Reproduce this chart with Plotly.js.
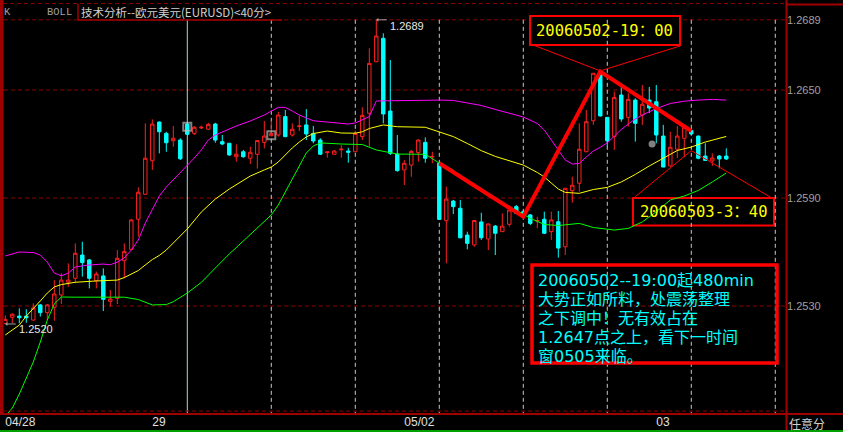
<!DOCTYPE html>
<html><head><meta charset="utf-8">
<script src="https://cdn.plot.ly/plotly-3.0.1.min.js"></script>
<style>html,body{margin:0;padding:0;background:#000;}#chart{width:843px;height:432px;}</style>
</head><body><div id="chart"></div>
<script>
// ---- candle data (EURUSD 40-minute bars) ----
const openP = [1.25202,1.25237,1.25244,1.25244,1.25222,1.25306,1.25263,1.25293,1.25361,1.25432,
1.25454,1.25583,1.25556,1.25441,1.25467,1.25326,1.25343,1.25552,1.25615,1.25782,
1.25921,1.26107,1.26322,1.26259,1.26218,1.26222,1.26311,1.26259,1.26289,1.26282,
1.26311,1.26213,1.26204,1.26129,1.26157,1.26121,1.26143,1.26209,1.26246,1.26250,
1.26352,1.26250,1.26297,1.26306,1.26259,1.26222,1.26152,1.26143,1.26168,1.26161,
1.26157,1.26241,1.26371,1.26657,1.26787,1.26383,1.26144,1.26056,1.26083,1.26152,
1.26209,1.26128,1.26093,1.25774,1.25883,1.25843,1.25694,1.25639,1.25767,1.25672,
1.25744,1.25713,1.25754,1.25852,1.25824,1.25806,1.25772,1.25782,1.25713,1.25768,
1.25629,1.25941,1.25982,1.26157,1.26329,1.26602,1.26348,1.26241,1.26472,1.26348,
1.26444,1.26361,1.26444,1.26435,1.26244,1.26078,1.26171,1.26232,1.26274,1.26244,
1.26133,1.26106,1.26133,1.26133];
const highP = [1.25248,1.25259,1.25287,1.25282,1.25315,1.25311,1.25311,1.25444,1.25482,1.25537,
1.25648,1.25657,1.25561,1.25491,1.25509,1.25389,1.25611,1.25648,1.25783,1.25959,
1.26315,1.26337,1.26325,1.26268,1.26300,1.26232,1.26322,1.26300,1.26302,1.26318,
1.26318,1.26250,1.26206,1.26198,1.26167,1.26185,1.26222,1.26328,1.26329,1.26379,
1.26389,1.26315,1.26356,1.26394,1.26300,1.26232,1.26156,1.26167,1.26194,1.26179,
1.26274,1.26404,1.26732,1.26890,1.26815,1.26667,1.26250,1.26111,1.26167,1.26226,
1.26237,1.26157,1.26100,1.25963,1.25889,1.25889,1.25713,1.25778,1.25818,1.25756,
1.25750,1.25815,1.25857,1.25861,1.25833,1.25811,1.25796,1.25824,1.25824,1.25828,
1.25956,1.26018,1.26315,1.26389,1.26594,1.26606,1.26350,1.26491,1.26518,1.26482,
1.26454,1.26528,1.26517,1.26528,1.26306,1.26268,1.26300,1.26306,1.26287,1.26247,
1.26204,1.26148,1.26139,1.26176];
const lowP = [1.25200,1.25204,1.25204,1.25207,1.25219,1.25241,1.25222,1.25218,1.25311,1.25407,
1.25426,1.25463,1.25398,1.25398,1.25272,1.25296,1.25311,1.25454,1.25608,1.25685,
1.25917,1.26056,1.26148,1.26157,1.26185,1.26111,1.26250,1.26250,1.26283,1.26278,
1.26207,1.26194,1.26135,1.26102,1.26124,1.26089,1.26063,1.26176,1.26243,1.26241,
1.26237,1.26241,1.26272,1.26222,1.26204,1.26139,1.26124,1.26139,1.26124,1.26096,
1.26154,1.26222,1.26185,1.26656,1.26315,1.26139,1.26046,1.25972,1.26018,1.26102,
1.26096,1.26093,1.25778,1.25537,1.25811,1.25676,1.25615,1.25629,1.25667,1.25611,
1.25583,1.25711,1.25741,1.25811,1.25800,1.25750,1.25732,1.25700,1.25667,1.25569,
1.25583,1.25874,1.25935,1.26156,1.26306,1.26352,1.26185,1.26167,1.26324,1.26296,
1.26213,1.26306,1.26372,1.26204,1.26071,1.26074,1.26121,1.26126,1.26250,1.26115,
1.26107,1.26078,1.26065,1.26111];
const closeP = [1.25226,1.25254,1.25235,1.25235,1.25289,1.25263,1.25306,1.25367,1.25444,1.25444,
1.25593,1.25541,1.25454,1.25478,1.25337,1.25339,1.25565,1.25602,1.25778,1.25932,
1.26121,1.26311,1.26268,1.26207,1.26232,1.26118,1.26254,1.26293,1.26293,1.26309,
1.26222,1.26200,1.26139,1.26143,1.26129,1.26154,1.26219,1.26244,1.26259,1.26361,
1.26241,1.26282,1.26300,1.26256,1.26217,1.26143,1.26156,1.26161,1.26171,1.26154,
1.26259,1.26359,1.26648,1.26800,1.26367,1.26148,1.26052,1.26093,1.26159,1.26222,
1.26121,1.26131,1.25781,1.25894,1.25852,1.25679,1.25648,1.25775,1.25679,1.25756,
1.25704,1.25744,1.25833,1.25815,1.25806,1.25759,1.25775,1.25704,1.25778,1.25622,
1.25954,1.25971,1.26171,1.26324,1.26593,1.26356,1.26218,1.26459,1.26339,1.26448,
1.26315,1.26421,1.26400,1.26250,1.26072,1.26182,1.26244,1.26293,1.26256,1.26121,
1.26109,1.26122,1.26117,1.26117];

// ---- BOLL bands (at bar indices) ----
const upperX = [0,2,4,5,6,7,8,9,10,12,14,15,16,17,18,19,20,21,22,23,24,25,26,27,28,29,30,31,33,35,37,39,40,41,42,44,47,49,50,51,52,53,56,60,62,64,66,68,70,72,74,76,77,78,79,80,81,82,83,84,85,86,87,88,89,90,91,92,93,95,97,99,101,103];
const upperY = [1.25578,1.25600,1.25597,1.25583,1.25544,1.25483,1.25468,1.25483,1.25517,1.25528,
1.25533,1.25529,1.25544,1.25567,1.25611,1.25667,1.25761,1.25839,1.25911,1.25961,
1.26000,1.26044,1.26083,1.26122,1.26167,1.26222,1.26250,1.26267,1.26300,1.26328,
1.26361,1.26404,1.26403,1.26383,1.26361,1.26329,1.26319,1.26311,1.26317,1.26333,
1.26352,1.26439,1.26441,1.26444,1.26444,1.26442,1.26428,1.26414,1.26392,1.26372,
1.26350,1.26314,1.26278,1.26222,1.26167,1.26111,1.26089,1.26092,1.26128,1.26161,
1.26182,1.26206,1.26244,1.26281,1.26311,1.26339,1.26361,1.26381,1.26397,1.26425,
1.26438,1.26444,1.26448,1.26444];
const midX = [0,1,2,3,4,5,6,7,8,10,13,16,17,18,19,20,21,22,23,24,25,26,28,30,32,35,37,38,39,40,41,42,43,44,45,46,48,50,51,52,54,56,60,62,64,66,68,70,72,74,76,77,78,79,80,82,84,86,88,90,92,94,96,98,100,103];
const midY = [1.25139,1.25167,1.25194,1.25244,1.25289,1.25328,1.25372,1.25406,1.25419,1.25432,
1.25439,1.25444,1.25458,1.25478,1.25497,1.25528,1.25558,1.25581,1.25611,1.25650,
1.25689,1.25728,1.25822,1.25894,1.25950,1.26022,1.26056,1.26072,1.26100,1.26139,
1.26178,1.26211,1.26239,1.26258,1.26267,1.26272,1.26261,1.26260,1.26268,1.26286,
1.26306,1.26296,1.26293,1.26268,1.26241,1.26203,1.26163,1.26131,1.26106,1.26083,
1.26042,1.26017,1.25983,1.25950,1.25931,1.25926,1.25947,1.25959,1.25989,1.26031,
1.26078,1.26122,1.26164,1.26183,1.26211,1.26242];
const lowerX = [0,1,2,3,4,5,6,7,8,10,17,19,21,23,24,26,28,30,32,34,36,38,39,40,41,42,43,44,45,48,51,53,56,60,62,64,65,67,69,71,73,75,77,79,82,84,87,89,91,93,95,97,99,101,103];
const lowerY = [1.24689,1.24733,1.24811,1.24897,1.24989,1.25100,1.25222,1.25311,1.25350,1.25349,
1.25349,1.25336,1.25306,1.25308,1.25324,1.25372,1.25431,1.25511,1.25589,1.25661,
1.25733,1.25806,1.25861,1.25933,1.26000,1.26078,1.26150,1.26189,1.26206,1.26200,
1.26197,1.26167,1.26144,1.26143,1.26094,1.26056,1.26011,1.25961,1.25911,1.25867,
1.25833,1.25787,1.25753,1.25747,1.25759,1.25736,1.25722,1.25731,1.25767,1.25824,
1.25889,1.25911,1.25942,1.25989,1.26039];

// ---- hand-drawn trend line & markers ----
const trendX = [62,74,85,98];
const trendY = [1.26093,1.25796,1.26602,1.26272];
const markX = [26,38,92.4];
const markY = [1.26296,1.26248,1.26200];

// ---- axis labels ----
const priceTicks = [1.2689,1.2650,1.2590,1.2530];
const priceTickText = ['1.2689','1.2650','1.2590','1.2530'];
const dateTickPos = [0,21,57,93];
const dateTickText = ['04/28','29','05/02','03'];
const gridBars = [38,50,62,74,86,98,110];
const daySepBar = 26;

// ---- texts ----
const headerTitle = '技术分析--欧元美元(EURUSD)<40分>';
const calloutA = '20060502-19：00';
const calloutB = '20060503-3：40';
const noteLines = ['20060502--19:00起480min','大势正如所料，处震荡整理','之下调中！无有效占在','1.2647点之上，看下一时间','窗0505来临。'];

const idx = openP.map((_, i) => i);

// pixel -> paper helpers for decoration
const W=843,H=432,ML=4,MR=57,MT=0,MB=19;
const PW=W-ML-MR, PH=H-MT-MB;
const px = x => (x-ML)/PW;
const py = y => 1-(y-MT)/PH;
const yMin = 1.27 - PH/18000, yMax = 1.27;
const DR = '#8b0000', BR = '#a00000';

const traces = [
 {type:'candlestick', x:idx, open:openP, high:highP, low:lowP, close:closeP,
  increasing:{line:{color:'#ff2020',width:1}, fillcolor:'#000000'},
  decreasing:{line:{color:'#00ffff',width:1}, fillcolor:'#00ffff'},
  whiskerwidth:0, hoverinfo:'skip'},
 {type:'scatter', mode:'lines', x:upperX, y:upperY, line:{color:'#ff00ff',width:1}, hoverinfo:'skip'},
 {type:'scatter', mode:'lines', x:midX, y:midY, line:{color:'#ffff00',width:1}, hoverinfo:'skip'},
 {type:'scatter', mode:'lines', x:lowerX, y:lowerY, line:{color:'#00ff00',width:1}, hoverinfo:'skip'},
 {type:'scatter', mode:'markers', x:markX, y:markY,
  marker:{symbol:['square-open','square-open','circle'], size:[8,8,5], color:'#b8b8b8', line:{color:'#b8b8b8',width:2}}, hoverinfo:'skip'},
 {type:'scatter', mode:'lines', x:trendX, y:trendY, line:{color:'#ff0000',width:4}, hoverinfo:'skip'}
];

const shapes = [];
priceTicks.forEach(v => shapes.push({type:'line', layer:'below', xref:'paper', yref:'y', x0:0, x1:1, y0:v, y1:v, line:{color:DR,width:1,dash:'4px,3px'}}));
gridBars.forEach(b => shapes.push({type:'line', layer:'below', xref:'x', yref:'y', x0:b, x1:b, y0:priceTicks[0], y1:yMin, line:{color:'#c8c8c8',width:1,dash:'4px,3px'}}));
shapes.push({type:'line', layer:'below', xref:'x', yref:'y', x0:daySepBar, x1:daySepBar, y0:priceTicks[0], y1:yMin, line:{color:'#a8d8d8',width:1}});
// frame / decoration
shapes.push({type:'line', xref:'paper', yref:'paper', x0:px(3), x1:px(786), y0:py(3.5), y1:py(3.5), line:{color:DR,width:1,dash:'4px,3px'}});
shapes.push({type:'line', xref:'paper', yref:'paper', x0:px(786), x1:px(843), y0:py(4.5), y1:py(4.5), line:{color:BR,width:2}});
shapes.push({type:'line', xref:'paper', yref:'paper', x0:px(3), x1:px(786), y0:py(411), y1:py(411), line:{color:DR,width:1,dash:'4px,3px'}});
shapes.push({type:'line', xref:'paper', yref:'paper', x0:px(0), x1:px(843), y0:py(414), y1:py(414), line:{color:BR,width:2}});
shapes.push({type:'rect', xref:'paper', yref:'paper', x0:px(0), x1:px(3.5), y0:py(0), y1:py(414), fillcolor:BR, line:{width:0}});
shapes.push({type:'line', xref:'paper', yref:'paper', x0:px(786.5), x1:px(786.5), y0:py(0), y1:py(432), line:{color:BR,width:2}});
shapes.push({type:'line', xref:'paper', yref:'paper', x0:px(78), x1:px(78), y0:py(4), y1:py(20.5), line:{color:BR,width:1.5}});
shapes.push({type:'line', xref:'paper', yref:'paper', x0:px(78), x1:px(282), y0:py(20), y1:py(20), line:{color:BR,width:1.5}});
shapes.push({type:'line', xref:'paper', yref:'paper', x0:px(0), x1:px(843), y0:py(431), y1:py(431), line:{color:'#00a000',width:2}});
// callout boxes
shapes.push({type:'rect', layer:'below', xref:'paper', yref:'paper', x0:px(530), x1:px(680), y0:py(16), y1:py(45), fillcolor:'#000000', line:{color:'#ff0000',width:2}});
shapes.push({type:'rect', layer:'below', xref:'paper', yref:'paper', x0:px(633), x1:px(774), y0:py(198), y1:py(225.5), fillcolor:'#000000', line:{color:'#ff0000',width:2}});
shapes.push({type:'rect', xref:'paper', yref:'paper', x0:px(532), x1:px(777), y0:py(265), y1:py(363), line:{color:'#ff0000',width:3.5}});
// callout pointer lines (anchored on data, offsets in pixels)
function pointer(ax, ay, dx, dy){ return {type:'line', xref:'x', yref:'y', xsizemode:'pixel', ysizemode:'pixel', xanchor:ax, yanchor:ay, x0:0, y0:0, x1:dx, y1:dy, line:{color:'#ff0000',width:1}}; }
shapes.push(pointer(85, 1.26606, -70, 27));
shapes.push(pointer(85, 1.26606, 80, 25));
shapes.push(pointer(98, 1.26163, -56, -46));
shapes.push(pointer(98, 1.26163, 80, -47));

const annotations = [];
const pa = (x, y, text, font, extra) => Object.assign({xref:'paper', yref:'paper', x:px(x), y:py(y), text:text, showarrow:false, xanchor:'left', yanchor:'middle', borderpad:0, font:font}, extra||{});
annotations.push(pa(2.5, 12, 'K', {family:'Liberation Mono', size:10.5, color:'#a0a0a0'}));
annotations.push(pa(46, 12, 'BOLL', {family:'Liberation Mono', size:10.5, color:'#a0a0a0'}));
annotations.push(pa(80, 12, headerTitle, {family:'Noto Sans CJK SC', size:11.5, color:'#d0d0d0'}));
const monoCJK = 'DejaVu Sans Mono, Noto Sans CJK SC';
annotations.push(pa(535, 31, calloutA, {family:monoCJK, size:15.5, color:'#ffff00'}));
annotations.push(pa(639, 212, calloutB, {family:monoCJK, size:15.5, color:'#ffff00'}));
const lineY = [280, 299, 318, 337, 356];
noteLines.forEach((t, i) => annotations.push(pa(537, lineY[i], t, {family:'DejaVu Sans, Noto Sans CJK SC', size:16, color:'#00ffff'})));
annotations.push(pa(788, 423, '任意分', {family:'Noto Sans CJK SC', size:12, color:'#d0d0d0'}));
// high / low labels
function arrow(x, y){ return {xref:'x', yref:'y', x:x, y:y, text:'', showarrow:true, ax:12, ay:0, arrowhead:1, arrowsize:0.7, arrowwidth:1, arrowcolor:'#a0a0a0', standoff:0}; }
annotations.push(arrow(53, highP[53]));
annotations.push({xref:'x', yref:'y', x:53, y:highP[53], text:priceTickText[0], showarrow:false, xanchor:'left', yanchor:'middle', xshift:12, yshift:-6, font:{family:'Liberation Sans', size:11, color:'#e8e8e8'}});
annotations.push(arrow(0, lowP[0]));
annotations.push({xref:'x', yref:'y', x:0, y:lowP[0], text:lowP[0].toFixed(4), showarrow:false, xanchor:'left', yanchor:'middle', xshift:12, yshift:-5, font:{family:'Liberation Sans', size:11, color:'#e8e8e8'}});

const layout = {
 width:W, height:H, margin:{l:ML, r:MR, t:MT, b:MB, pad:0},
 paper_bgcolor:'#000000', plot_bgcolor:'#000000', showlegend:false, hovermode:false, dragmode:false,
 xaxis:{range:[-0.186, 111.53], rangeslider:{visible:false}, showgrid:false, zeroline:false, showline:false,
   ticks:'', tickvals:dateTickPos, ticktext:dateTickText, ticklabelposition:'outside right',
   tickfont:{family:'Liberation Sans', size:12, color:'#e0e0e0'}, fixedrange:true},
 yaxis:{range:[yMin, yMax], side:'right', showgrid:false, zeroline:false, showline:false, ticks:'',
   tickvals:priceTicks, ticktext:priceTickText, tickfont:{family:'Liberation Sans', size:11, color:'#a0a0a0'}, fixedrange:true},
 shapes:shapes, annotations:annotations
};
Plotly.newPlot('chart', traces, layout, {staticPlot:true, displayModeBar:false});
</script></body></html>
